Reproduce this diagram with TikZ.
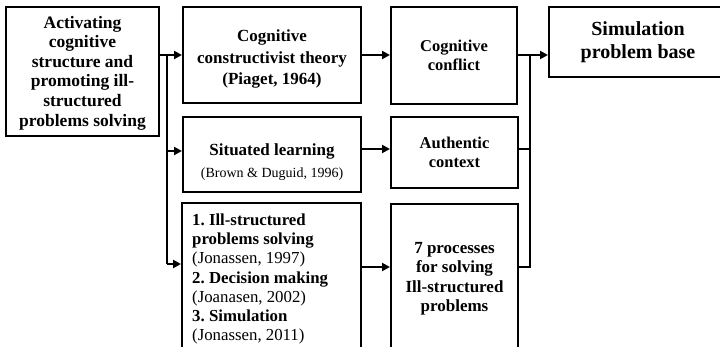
\documentclass[tikz,border=0pt]{standalone}
\usepackage{fontspec}
\setmainfont{Liberation Serif}
\usetikzlibrary{arrows.meta,calc}
\frenchspacing
\begin{document}
\begin{tikzpicture}[x=1pt,y=1pt,
  box/.style={draw, line width=2pt, rectangle, inner sep=2pt, align=center,
    font=\fontsize{16.5}{19.5}\selectfont\bfseries},
  label text/.style={inner sep=0pt, align=center},
  link/.style={line width=2.6pt},
  arr/.style={link, -{Triangle[length=8pt,width=8pt]}}]
\useasboundingbox (0,0) rectangle (720,-347);
\clip (0,0) rectangle (720,-347);

% left column: the starting box
\node[box, minimum width=153pt, minimum height=129pt] (A) at (82.5,-71.5) {};
\node[label text, font=\fontsize{17.5}{19.6}\selectfont\bfseries] (At) at ($(A.center)+(0,-1.5)$)
  {Activating\\cognitive\\structure and\\promoting ill-\\structured\\problems solving};

% theories
\node[box, minimum width=178pt, minimum height=96pt] (B) at (272,-55) {};
\node[label text, font=\fontsize{17}{21.5}\selectfont\bfseries] (Bt) at ($(B.center)+(0,-4)$)
  {Cognitive\\constructivist theory\\(Piaget, 1964)};
\node[box, minimum width=178pt, minimum height=75pt] (E) at (272,-154.5) {};
\node[label text, font=\fontsize{17}{20}\selectfont\bfseries] (Et) at ($(E.center)+(0,-8)$)
  {Situated learning\\[2pt]{\fontsize{14}{16}\selectfont\mdseries (Brown \& Duguid, 1996)}};
\node[box, minimum width=179pt, minimum height=149pt] (G) at (271.5,-277.5) {};
\node[label text, align=left, font=\fontsize{16.8}{19.3}\selectfont, anchor=west] (Gt)
  at ($(G.west)+(11,-1.5)$)
  {\textbf{1. Ill-structured}\\\textbf{problems solving}\\(Jonassen, 1997)\\
   \textbf{2. Decision making}\\(Joanasen, 2002)\\\textbf{3. Simulation}\\(Jonassen, 2011)};

% outcomes
\node[box, minimum width=126pt, minimum height=97pt] (C) at (454,-55.5)
  {Cognitive\\conflict};
\node[box, minimum width=127pt, minimum height=71pt] (F) at (454.5,-152.5)
  {Authentic\\context};
\node[box, minimum width=127pt, minimum height=146pt] (H) at (454.5,-277) {};
\node[label text, font=\fontsize{17}{19.5}\selectfont\bfseries] (Ht) at ($(H.center)+(0,-1.5)$)
  {7 processes\\for solving\\Ill-structured\\problems};

% result
\node[box, minimum width=178pt, minimum height=70pt,
  font=\fontsize{20}{23}\selectfont\bfseries] (D) at (638,-42)
  {Simulation\\problem base};

% left bus
\coordinate (bl) at (167,-55);
\coordinate (gin) at ($(G.north west)+(0,-62)$);
\draw[link] (A.east |- B.west) -- (bl) -- (bl |- gin);
\draw[arr] (bl) -- (B.west);
\draw[arr] (bl |- 0,-151) -- (E.west |- 0,-151);
\draw[arr] (bl |- gin) -- (gin);

% middle arrows
\draw[arr] (B.east) -- (C.west |- B.east);
\draw[arr] (E.east |- 0,-149) -- (F.west |- 0,-149);
\coordinate (hin) at ($(H.north west)+(0,-64)$);
\draw[arr] (G.east |- hin) -- (hin);

% right bus
\coordinate (dIn) at ($(D.north west)+(0,-49)$);
\coordinate (br) at (530,0);
\draw[arr] (C.east |- dIn) -- (dIn);
\draw[link] (br |- dIn) -- (br |- hin) -- (H.east |- hin);
\draw[link] (F.east |- 0,-149) -- (br |- 0,-149);
\end{tikzpicture}
\end{document}
